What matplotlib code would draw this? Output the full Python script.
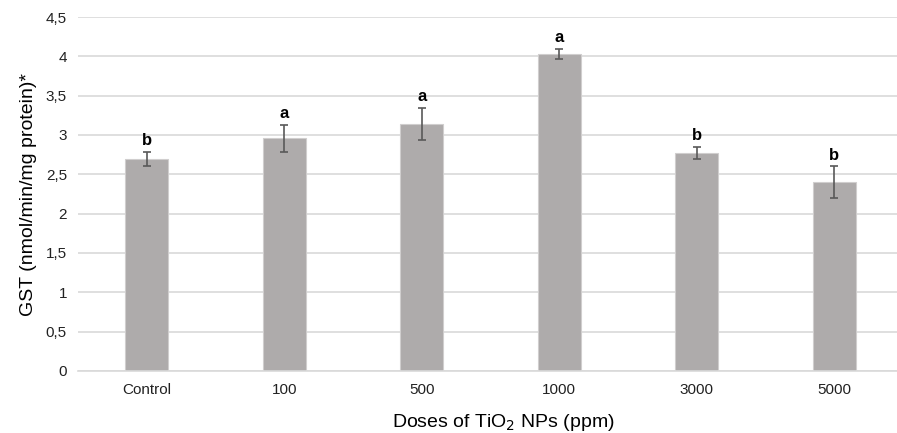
import numpy as np
import matplotlib.pyplot as plt

plt.rcParams['font.family'] = ['Liberation Sans', 'DejaVu Sans']

doses = ["Control", "100", "500", "1000", "3000", "5000"]
gst = [2.70, 2.96, 3.14, 4.03, 2.77, 2.40]
err = [0.09, 0.17, 0.20, 0.06, 0.08, 0.20]
letters = ["b", "a", "a", "a", "b", "b"]

fig = plt.figure(figsize=(8.97, 4.33), dpi=100)
ax = fig.add_axes([78/897, 62/433, 825/897, 354/433])

x = np.arange(len(doses))
ax.bar(x, gst, width=0.31, color='#AEABAB', edgecolor='#D0CECE', linewidth=0.8, zorder=2)
ax.errorbar(x, gst, yerr=err, fmt='none', ecolor='#595959', elinewidth=1.2,
            capsize=3, capthick=1.2, zorder=3)
for xi, v, e, l in zip(x, gst, err, letters):
    ax.text(xi, v + e + 0.05, l, ha='center', va='bottom', fontsize=12, fontweight='bold')

ax.set_xlim(-0.5, len(doses) - 0.5)
ax.set_ylim(0, 4.5)
ax.set_yticks(np.arange(0, 4.51, 0.5))
ax.set_yticklabels(['0', '0,5', '1', '1,5', '2', '2,5', '3', '3,5', '4', '4,5'])
ax.set_xticks(x)
ax.set_xticklabels(doses)
ax.tick_params(length=0, labelsize=11, colors='#222222')
ax.tick_params(axis='x', pad=9)
ax.tick_params(axis='y', pad=8)
ax.yaxis.grid(True, color='#D9D9D9', linewidth=1.2, zorder=0)
ax.set_axisbelow(True)
for s in ['top', 'right', 'left']:
    ax.spines[s].set_visible(False)
ax.spines['bottom'].set_color('#D9D9D9')
ax.spines['bottom'].set_linewidth(1.2)

ax.set_ylabel("GST (nmol/min/mg protein)*", fontsize=14, labelpad=6)
fig.text(503/897, 6/433, "Doses of TiO$_2$ NPs (ppm)", fontsize=14,
         ha='center', va='baseline')

plt.savefig("out.png", dpi=100)
